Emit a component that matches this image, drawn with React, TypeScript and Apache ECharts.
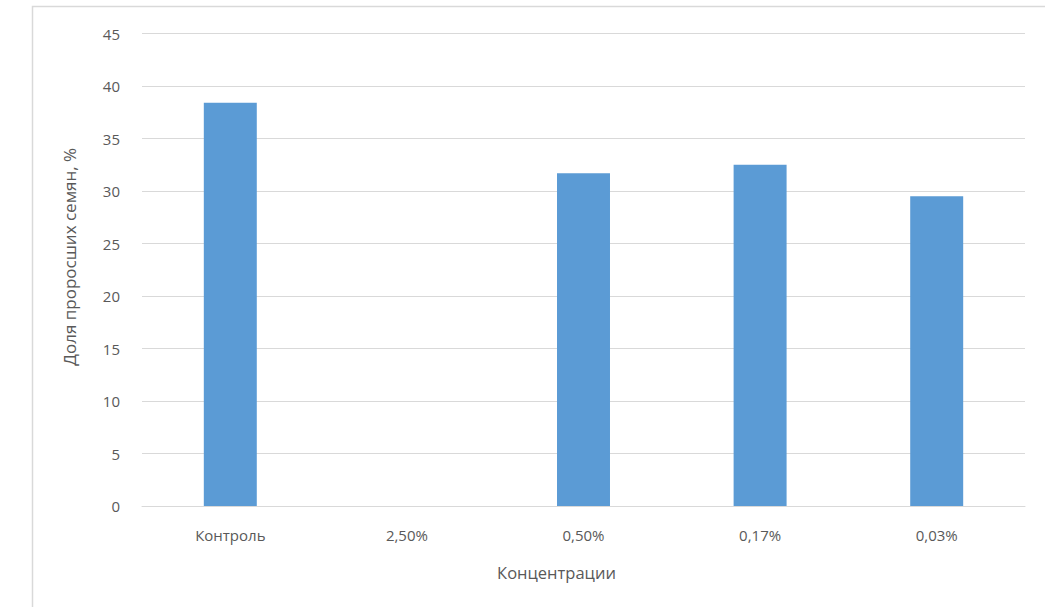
import React, { useEffect, useRef } from "react";
import * as echarts from "echarts";

// Share of germinated seeds by concentration
const categories = ["Контроль", "2,50%", "0,50%", "0,17%", "0,03%"];
const germinated = [38.4, 0, 31.7, 32.5, 29.5];
const yTicks = { min: 0, max: 45, interval: 5 };

const FONT = "'Open Sans', 'Liberation Sans', sans-serif";
const TEXT = "#595959";
const GRID = "#d9d9d9";

export default function App() {
  const ref = useRef<HTMLDivElement>(null);

  useEffect(() => {
    if (!ref.current) return;
    const chart = echarts.init(ref.current, null, { renderer: "svg" });
    chart.setOption({
      animation: false,
      backgroundColor: "#ffffff",
      grid: { left: 142, right: 20, top: 33.5, bottom: 101, containLabel: false },
      graphic: [
        {
          type: "polyline",
          shape: { points: [[32.5, 620], [32.5, 6.5], [1060, 6.5]] },
          style: { stroke: GRID, lineWidth: 1.5, fill: null },
          silent: true,
        },
      ],
      xAxis: {
        type: "category",
        data: categories,
        axisLine: { lineStyle: { color: GRID, width: 1 } },
        axisTick: { show: false },
        axisLabel: { color: TEXT, fontSize: 15, fontFamily: FONT, margin: 21 },
        name: "Концентрации",
        nameLocation: "middle",
        nameGap: 58,
        nameTextStyle: { color: TEXT, fontSize: 16.5, fontFamily: FONT, padding: [0, 54, 0, 0] },
      },
      yAxis: {
        type: "value",
        min: yTicks.min,
        max: yTicks.max,
        interval: yTicks.interval,
        axisLine: { show: false },
        axisTick: { show: false },
        splitLine: { lineStyle: { color: GRID, width: 1 } },
        axisLabel: { color: TEXT, fontSize: 15, fontFamily: FONT, margin: 22 },
        name: "Доля проросших семян, %",
        nameLocation: "middle",
        nameGap: 64,
        nameTextStyle: { color: TEXT, fontSize: 17, fontFamily: FONT, padding: [0, 0, 0, 26] },
      },
      series: [
        {
          type: "bar",
          data: germinated,
          barWidth: "30%",
          itemStyle: { color: "#5B9BD5" },
        },
      ],
    });
    return () => chart.dispose();
  }, []);

  return (
    <div
      ref={ref}
      style={{ position: "fixed", left: 0, top: 0, width: 1045, height: 607 }}
    />
  );
}
